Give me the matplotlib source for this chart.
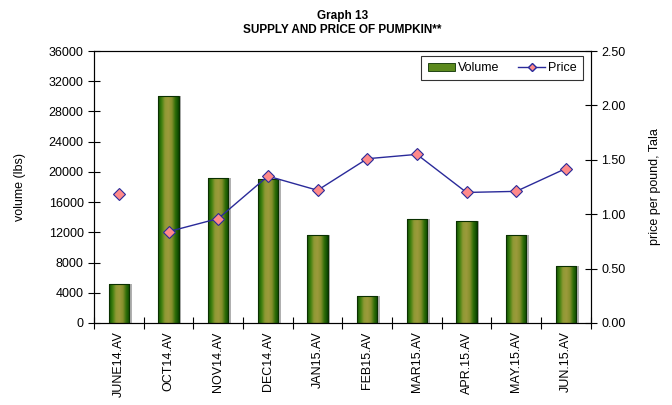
import numpy as np
import matplotlib
matplotlib.use('Agg')
import matplotlib.pyplot as plt
from matplotlib.colors import LinearSegmentedColormap
from matplotlib.lines import Line2D
from matplotlib.patches import Patch

months = ['JUNE14.AV', 'OCT14.AV', 'NOV14.AV', 'DEC14.AV', 'JAN15.AV',
          'FEB15.AV', 'MAR15.AV', 'APR.15.AV', 'MAY.15.AV', 'JUN.15.AV']
volume = [5200, 30000, 19200, 19000, 11700, 3600, 13700, 13500, 11700, 7500]
price = [1.19, 0.84, 0.96, 1.35, 1.22, 1.51, 1.55, 1.20, 1.21, 1.42]

plt.rcParams['font.family'] = ['Liberation Sans', 'DejaVu Sans']
plt.rcParams['font.size'] = 9

fig = plt.figure(figsize=(6.72, 4.05), dpi=100)
ax = fig.add_axes([0.14, 0.2025, 0.739, 0.6715])
x = np.arange(len(months))
w = 0.41

# bar gradient: dark green edges, olive middle
grad = LinearSegmentedColormap.from_list('g', ['#0e5200', '#3f8010', '#8f9a34', '#9c9a3c', '#86902c', '#2f6e08', '#0a4500'])
g = np.linspace(0, 1, 64).reshape(1, -1)

# grey shadow
ax.bar(x + 0.05, volume, w, bottom=0, color='#b0b0b0', zorder=1)
bars = ax.bar(x, volume, w, color='none', edgecolor='#0a3000', linewidth=0.8, zorder=3)
for b in bars:
    bx, by = b.get_x(), b.get_y()
    im = ax.imshow(g, cmap=grad, aspect='auto', zorder=2,
                   extent=[bx, bx + b.get_width(), by, by + b.get_height()])
    im.set_clip_path(b)

ax.set_xlim(-0.5, len(months) - 0.5)
ax.set_ylim(0, 36000)
ax.set_yticks(np.arange(0, 36001, 4000))
ax.set_xticks(x)
ax.set_xticklabels(months, rotation=90)
ax.set_xticks(np.arange(-0.5, len(months), 1), minor=True)
ax.tick_params(axis='x', which='major', length=0, pad=6)
ax.tick_params(axis='x', which='minor', direction='inout', length=8, width=0.8)
ax.tick_params(axis='y', direction='inout', length=8, width=0.8)
ax.set_ylabel('volume (lbs)', labelpad=16)
for s in ax.spines.values():
    s.set_color('#303030')

ax2 = ax.twinx()
ax2.set_ylim(0, 2.5)
ax2.set_yticks(np.arange(0, 2.51, 0.5))
ax2.set_yticklabels(['%.2f' % v for v in np.arange(0, 2.51, 0.5)])
ax2.tick_params(axis='y', direction='inout', length=8, width=0.8)
ax2.set_ylabel('price per pound, Tala', labelpad=17)
ax2.plot(x[1:], price[1:], color='#2a2a9a', linewidth=1, zorder=4)
ax2.plot(x, price, linestyle='none', marker='D', markersize=6,
         markerfacecolor='#ff8a8a', markeredgecolor='#2a2a9a', markeredgewidth=0.8, zorder=5)
ax2.set_xlim(-0.5, len(months) - 0.5)

handles = [Patch(facecolor='#5c8a1e', edgecolor='#0a3000', linewidth=0.6),
           Line2D([], [], color='#2a2a9a', linewidth=1, marker='D', markersize=4,
                  markerfacecolor='#ff8a8a', markeredgecolor='#2a2a9a')]
leg = ax2.legend(handles, ['Volume', 'Price'], ncol=2, loc='upper right',
                 bbox_to_anchor=(0.984, 0.982), borderaxespad=0, frameon=True, fancybox=False,
                 edgecolor='black', handlelength=2.2, handleheight=0.6,
                 columnspacing=1.5, handletextpad=0.2, borderpad=0.5)
leg.get_frame().set_linewidth(0.8)

fig.suptitle('Graph 13\nSUPPLY AND PRICE OF PUMPKIN**', fontsize=8.5,
             fontweight='bold', y=0.975, x=0.51)

fig.savefig('out.png', dpi=100)
